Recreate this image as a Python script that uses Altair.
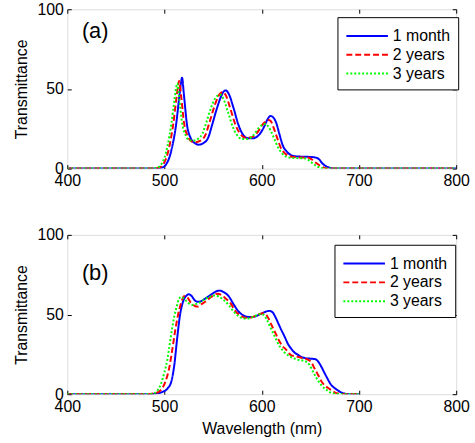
import altair as alt
import pandas as pd

FONT = "Liberation Sans"
series_names = ["1 month", "2 years", "3 years"]
series_colors = ["#0000ff", "#ff0000", "#00ff00"]
series_dash = [[1, 0], [6, 3], [2, 2]]

x_ticks = [400, 500, 600, 700, 800]
y_ticks = [0, 50, 100]

# ---- panel (a) ----
a_1m_wl = [400, 490, 497, 502, 505, 508, 512, 515, 517, 518, 520, 523, 527, 531, 535, 540, 545, 549, 554, 558,
           561, 563, 566, 571, 576, 580, 586, 591, 596, 600, 603, 606, 609, 612, 615, 618, 622, 626, 630, 635,
           640, 645, 650, 654, 659, 662, 666, 670, 673, 800]
a_1m_t = [0, 0, 0.5, 3, 7, 14, 28, 44, 54, 57, 46, 28, 19, 16, 15, 16, 19.5, 27.5, 38, 45,
          48.5, 49, 47, 38, 27.5, 22, 19, 19, 20.5, 23.5, 27, 31, 33, 32, 28.5, 22, 14, 10.5, 8.5, 7.7,
          7.5, 7.4, 7.3, 7.1, 5.8, 3.5, 1.5, 0.5, 0, 0]

a_2y_wl = [400, 487, 494, 499, 502, 505, 509, 512, 514, 515, 517, 520, 524, 528, 532, 537, 542, 546, 551, 555,
           558, 560, 563, 568, 573, 577, 583, 588, 593, 597, 600, 604, 607, 609, 612, 616, 620, 624, 628, 633,
           638, 643, 648, 652, 656, 660, 664, 668, 800]
a_2y_t = [0, 0, 0.5, 3, 7, 14, 28, 43, 52, 55, 46, 29, 20, 17, 16.5, 17.5, 21, 28.5, 38.5, 45,
          47.5, 48, 46, 37, 27.5, 22.5, 19.5, 19.5, 21, 24, 27, 29.5, 30.5, 30, 26, 19, 12.5, 9.5, 8, 7.2,
          7, 7, 6.8, 5.5, 3.5, 1.8, 0.6, 0, 0]

a_3y_wl = [400, 485, 492, 497, 500, 503, 507, 510, 512, 513, 515, 518, 522, 525, 529, 534, 539, 543, 548, 552,
           555, 557, 560, 565, 570, 574, 580, 585, 590, 594, 597, 601, 604, 606, 609, 613, 617, 621, 625, 630,
           635, 640, 645, 649, 653, 657, 661, 665, 800]
a_3y_t = [0, 0, 0.5, 3, 7, 14, 28, 42, 51, 53.5, 45, 29, 20.5, 18, 17.5, 18.5, 22, 29, 38.5, 44,
          46, 46.5, 44.5, 36, 26.5, 21.5, 18.5, 18.5, 20, 23, 25.5, 27.5, 28, 27, 24, 18.5, 13, 9.5, 7.5, 6.8,
          6.6, 6.5, 6.3, 5, 3, 1.3, 0.4, 0, 0]

# ---- panel (b) ----
b_1m_wl = [400, 485, 492, 498, 503, 507, 510, 513, 516, 519, 522, 525, 528, 531, 534, 538, 543, 548, 553, 557,
           561, 566, 571, 576, 581, 586, 591, 596, 601, 605, 608, 611, 614, 617, 620, 624, 627, 631, 634, 637,
           641, 645, 650, 655, 658, 661, 664, 667, 671, 675, 678, 682, 686, 690, 700]
b_1m_t = [0, 0, 0.5, 1.5, 3.5, 8, 18, 35, 50, 58, 61.5, 62.7, 61.5, 59, 58, 58.5, 60.5, 62.5, 64.5, 65,
          64, 61.5, 56.5, 52, 49.5, 48.5, 48.5, 49.5, 51, 52, 52.3, 51.5, 48.5, 44.5, 40.5, 35.5, 31.5, 28, 26, 24.8,
          23.3, 22.6, 22.3, 22, 20.5, 17.6, 14, 10.5, 6.2, 3.8, 2.5, 1, 0.3, 0, 0]

b_2y_wl = [400, 482, 489, 494, 498, 501, 505, 508, 511, 514, 517, 520, 523, 527, 531, 534, 538, 543, 548, 554,
           558, 563, 568, 573, 578, 583, 588, 593, 598, 601, 604, 607, 610, 614, 617, 621, 625, 630, 635, 640,
           645, 648, 651, 654, 658, 661, 664, 668, 671, 675, 679, 684, 700]
b_2y_t = [0, 0, 0.5, 1.5, 4, 8, 17, 28, 40, 50, 57, 61.5, 61, 57.5, 55.5, 55, 56.5, 58.5, 61, 63,
          62.5, 60, 57, 52, 49.5, 48, 48, 49, 50.3, 50.8, 50.3, 47.5, 43.5, 38.5, 34.5, 30.5, 28, 24.5, 23.8, 23,
          22.3, 21.5, 20, 16.5, 12, 8.5, 6, 4, 2.7, 1.2, 0.4, 0, 0]

b_3y_wl = [400, 480, 486, 490, 493, 496, 500, 503, 505, 508, 510, 513, 515, 517, 520, 524, 528, 532, 536, 541,
           546, 551, 555, 560, 566, 571, 576, 581, 586, 591, 596, 599, 602, 605, 608, 612, 615, 619, 623, 628,
           633, 638, 643, 646, 649, 652, 656, 659, 662, 666, 669, 673, 677, 682, 700]
b_3y_t = [0, 0, 0.2, 0.8, 2.5, 6, 14, 22, 30, 42, 48.6, 56, 60, 61, 60, 57.5, 56, 56.5, 57.5, 59.5,
          61, 62, 61.5, 59.5, 56, 52, 49, 47.5, 47.5, 48.5, 49.8, 50.3, 49.8, 47, 43, 38, 34, 29.5, 26.5, 24,
          22.5, 21.5, 21, 20.3, 18.5, 15, 10.5, 7.5, 5, 3, 1.5, 0.6, 0.2, 0, 0]

panel_labels = ["(a)", "(b)"]
panel_label_x = [415, 415]
panel_label_y = [86, 76]


def make_df(wls, ts):
    rows = []
    for name, wl, t in zip(series_names, wls, ts):
        for i, (w, v) in enumerate(zip(wl, t)):
            rows.append({"series": name, "wl": w, "T": v, "order": i})
    return pd.DataFrame(rows)


df_a = make_df([a_1m_wl, a_2y_wl, a_3y_wl], [a_1m_t, a_2y_t, a_3y_t])
df_b = make_df([b_1m_wl, b_2y_wl, b_3y_wl], [b_1m_t, b_2y_t, b_3y_t])

xscale = alt.Scale(domain=[400, 800], nice=False, zero=False)
yscale = alt.Scale(domain=[0, 100], nice=False)


def panel(df, label_idx, show_xtitle, legend_x, legend_y):
    xaxis = alt.Axis(values=x_ticks, orient="bottom", offset=-4, tickSize=4, domain=False, grid=False,
                     labelFontSize=16, labelFont=FONT, labelPadding=4, labelFlush=False, labelColor="black",
                     tickColor="black", format="d",
                     title="Wavelength (nm)" if show_xtitle else None,
                     titleFont=FONT, titleFontSize=16, titleFontWeight="normal", titlePadding=7,
                     titleColor="black")
    yaxis = alt.Axis(values=y_ticks, orient="left", offset=-4, tickSize=4, domain=False, grid=False,
                     labelFontSize=16, labelFont=FONT, labelPadding=4, labelFlush=False, labelColor="black",
                     tickColor="black", title="Transmittance",
                     titleFont=FONT, titleFontSize=16, titleFontWeight="normal", titlePadding=8,
                     titleColor="black")
    legend = alt.Legend(orient="none", legendX=legend_x, legendY=legend_y, title=None,
                        strokeColor="black", fillColor="white", padding=8,
                        symbolType="M-1,0H3.2", symbolStrokeWidth=2, symbolSize=400,
                        labelFontSize=16, labelFont=FONT, labelColor="black", rowPadding=0,
                        labelOffset=26, cornerRadius=0)
    lines = alt.Chart(df).mark_line(strokeWidth=2, interpolate="monotone", clip=True).encode(
        x=alt.X("wl:Q", scale=xscale, axis=xaxis),
        y=alt.Y("T:Q", scale=yscale, axis=yaxis),
        color=alt.Color("series:N", scale=alt.Scale(domain=series_names, range=series_colors), legend=legend),
        strokeDash=alt.StrokeDash("series:N", scale=alt.Scale(domain=series_names, range=series_dash),
                                  legend=legend),
        order="order:Q",
    )
    tick_axes = alt.Chart(df).mark_line(opacity=0).encode(
        x=alt.X("wl:Q", scale=xscale,
                axis=alt.Axis(values=x_ticks, orient="top", offset=-4, tickSize=4, domain=False,
                              labels=False, grid=False, title=None, tickColor="black")),
        y=alt.Y("T:Q", scale=yscale,
                axis=alt.Axis(values=y_ticks, orient="right", offset=-4, tickSize=4, domain=False,
                              labels=False, grid=False, title=None, tickColor="black")),
        detail="series:N",
    )
    lab_df = pd.DataFrame({"text": [panel_labels[label_idx]], "x": [panel_label_x[label_idx]],
                           "y": [panel_label_y[label_idx]]})
    label = alt.Chart(lab_df).mark_text(align="left", baseline="middle", fontSize=22, font=FONT,
                                        color="black").encode(
        x=alt.X("x:Q", scale=xscale, axis=None),
        y=alt.Y("y:Q", scale=yscale, axis=None),
        text="text:N",
    )
    return alt.layer(lines, label, tick_axes).resolve_axis(x="independent", y="independent").properties(
        width=393, height=161)


top = panel(df_a, 0, False, 273, 8)
bottom = panel(df_b, 1, True, 270, 10)

chart = alt.vconcat(top, bottom, spacing=37).resolve_legend(
    color="independent", strokeDash="independent"
).properties(
    padding={"left": 12, "top": -2, "right": 5, "bottom": 5}
).configure_view(stroke="black", strokeWidth=1).configure(background="white")

chart.save("out.html", embed_options={"renderer": "svg", "actions": False})
